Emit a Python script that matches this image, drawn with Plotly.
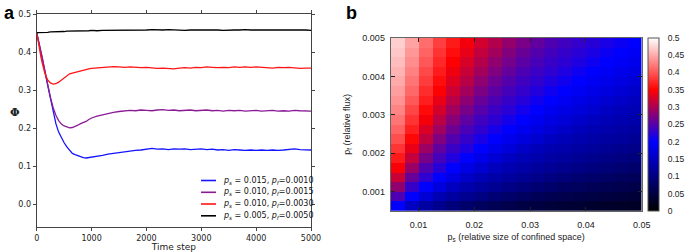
import plotly.graph_objects as go

# ---------------- Panel a data ----------------
time_steps = [0, 25, 50, 75, 100, 150, 200, 250, 300, 350, 400, 450, 500, 550, 600, 650, 700, 750, 800, 850, 900, 950, 1000,
              1100, 1200, 1300, 1400, 1500, 1600, 1700, 1800, 1900, 2000,
              2100, 2200, 2300, 2400, 2500, 2600, 2700, 2800, 2900, 3000,
              3100, 3200, 3300, 3400, 3500, 3600, 3700, 3800, 3900, 4000,
              4100, 4200, 4300, 4400, 4500, 4600, 4700, 4800, 4900, 5000]

phi_blue = [0.451, 0.435, 0.420, 0.403, 0.386, 0.350, 0.313, 0.276, 0.242, 0.212, 0.190, 0.174, 0.162, 0.151, 0.141, 0.134, 0.131, 0.128, 0.125, 0.123, 0.122, 0.123, 0.124,
            0.126, 0.129, 0.132, 0.134, 0.137, 0.138, 0.140, 0.142, 0.143, 0.145,
            0.147, 0.145, 0.146, 0.144, 0.146, 0.145, 0.146, 0.144, 0.145, 0.146,
            0.144, 0.145, 0.143, 0.144, 0.142, 0.144, 0.143, 0.142, 0.143, 0.142,
            0.143, 0.142, 0.143, 0.142, 0.143, 0.144, 0.146, 0.144, 0.143, 0.143]

phi_purple = [0.451, 0.436, 0.421, 0.404, 0.387, 0.350, 0.314, 0.281, 0.254, 0.234, 0.220, 0.211, 0.206, 0.203, 0.201, 0.202, 0.204, 0.208, 0.212, 0.214, 0.218, 0.223, 0.227,
              0.232, 0.236, 0.240, 0.242, 0.244, 0.246, 0.247, 0.246, 0.248, 0.247,
              0.246, 0.248, 0.249, 0.247, 0.248, 0.246, 0.247, 0.248, 0.246, 0.247,
              0.248, 0.246, 0.247, 0.245, 0.247, 0.246, 0.247, 0.245, 0.246, 0.247,
              0.245, 0.246, 0.247, 0.245, 0.246, 0.245, 0.247, 0.246, 0.245, 0.245]

phi_red = [0.451, 0.428, 0.408, 0.389, 0.372, 0.344, 0.327, 0.319, 0.316, 0.317, 0.321, 0.327, 0.333, 0.338, 0.343, 0.345, 0.347, 0.349, 0.352, 0.353, 0.354, 0.356, 0.357,
           0.358, 0.360, 0.361, 0.362, 0.361, 0.360, 0.361, 0.360, 0.359, 0.360,
           0.358, 0.357, 0.358, 0.357, 0.356, 0.358, 0.359, 0.358, 0.360, 0.359,
           0.361, 0.360, 0.359, 0.360, 0.359, 0.361, 0.360, 0.361, 0.360, 0.361,
           0.360, 0.359, 0.358, 0.360, 0.359, 0.360, 0.358, 0.357, 0.358, 0.358]

phi_black = [0.451, 0.451, 0.451, 0.452, 0.452, 0.452, 0.452, 0.453, 0.453, 0.453, 0.454, 0.454, 0.454, 0.455, 0.455, 0.455, 0.455, 0.456, 0.456, 0.456, 0.456, 0.456, 0.457,
             0.456, 0.457, 0.457, 0.458, 0.457, 0.458, 0.458, 0.457, 0.458, 0.458,
             0.459, 0.458, 0.458, 0.459, 0.458, 0.458, 0.457, 0.458, 0.458, 0.458,
             0.459, 0.458, 0.458, 0.457, 0.458, 0.458, 0.458, 0.459, 0.458, 0.458,
             0.458, 0.458, 0.459, 0.458, 0.458, 0.458, 0.459, 0.458, 0.458, 0.457]

series_names = [
    "<i>p<sub>s</sub></i> = 0.015, <i>p<sub>f</sub></i>=0.0010",
    "<i>p<sub>s</sub></i> = 0.010, <i>p<sub>f</sub></i>=0.0015",
    "<i>p<sub>s</sub></i> = 0.010, <i>p<sub>f</sub></i>=0.0030",
    "<i>p<sub>s</sub></i> = 0.005, <i>p<sub>f</sub></i>=0.0050",
]
series_colors = ["#1414ff", "#8a1a96", "#ff1414", "#000000"]

time_ticks = [0, 1000, 2000, 3000, 4000, 5000]
phi_ticks = [0.0, 0.1, 0.2, 0.3, 0.4, 0.5]

# ---------------- Panel b data ----------------
ps_centers = [0.00625, 0.00875, 0.01125, 0.01375, 0.01625, 0.01875, 0.02125, 0.02375, 0.02625,
              0.02875, 0.03125, 0.03375, 0.03625, 0.03875, 0.04125, 0.04375, 0.04625, 0.04875]
pf_centers = [0.000625, 0.000875, 0.001125, 0.001375, 0.001625, 0.001875, 0.002125, 0.002375, 0.002625,
              0.002875, 0.003125, 0.003375, 0.003625, 0.003875, 0.004125, 0.004375, 0.004625, 0.004875]

phi_map = [
    [0.200, 0.153, 0.128, 0.111, 0.096, 0.083, 0.073, 0.066, 0.060, 0.054, 0.050, 0.046, 0.042, 0.039, 0.037, 0.034, 0.032, 0.030],
    [0.245, 0.200, 0.166, 0.140, 0.126, 0.113, 0.102, 0.092, 0.083, 0.076, 0.070, 0.065, 0.060, 0.057, 0.053, 0.050, 0.047, 0.044],
    [0.285, 0.232, 0.200, 0.173, 0.149, 0.135, 0.124, 0.115, 0.106, 0.098, 0.090, 0.083, 0.078, 0.073, 0.068, 0.064, 0.061, 0.058],
    [0.318, 0.260, 0.227, 0.200, 0.177, 0.157, 0.142, 0.132, 0.124, 0.116, 0.108, 0.101, 0.095, 0.089, 0.083, 0.079, 0.074, 0.071],
    [0.345, 0.290, 0.247, 0.223, 0.200, 0.180, 0.163, 0.148, 0.138, 0.130, 0.123, 0.116, 0.110, 0.104, 0.099, 0.093, 0.088, 0.083],
    [0.365, 0.316, 0.270, 0.240, 0.219, 0.200, 0.182, 0.168, 0.153, 0.142, 0.135, 0.128, 0.122, 0.117, 0.111, 0.106, 0.101, 0.096],
    [0.381, 0.337, 0.292, 0.257, 0.234, 0.219, 0.200, 0.184, 0.171, 0.158, 0.147, 0.139, 0.133, 0.127, 0.122, 0.117, 0.112, 0.107],
    [0.396, 0.354, 0.312, 0.275, 0.248, 0.231, 0.215, 0.200, 0.186, 0.174, 0.162, 0.151, 0.143, 0.137, 0.131, 0.126, 0.122, 0.117],
    [0.408, 0.368, 0.328, 0.294, 0.264, 0.243, 0.228, 0.213, 0.200, 0.187, 0.176, 0.166, 0.155, 0.146, 0.140, 0.135, 0.130, 0.126],
    [0.418, 0.380, 0.344, 0.310, 0.280, 0.255, 0.238, 0.226, 0.212, 0.200, 0.188, 0.178, 0.169, 0.159, 0.150, 0.143, 0.138, 0.133],
    [0.428, 0.391, 0.356, 0.324, 0.295, 0.270, 0.250, 0.235, 0.224, 0.211, 0.200, 0.189, 0.179, 0.171, 0.162, 0.153, 0.146, 0.141],
    [0.436, 0.402, 0.367, 0.337, 0.309, 0.283, 0.261, 0.244, 0.232, 0.222, 0.210, 0.200, 0.190, 0.181, 0.173, 0.164, 0.157, 0.149],
    [0.443, 0.411, 0.376, 0.348, 0.320, 0.296, 0.273, 0.254, 0.240, 0.230, 0.220, 0.209, 0.200, 0.190, 0.182, 0.174, 0.167, 0.159],
    [0.450, 0.419, 0.385, 0.357, 0.331, 0.308, 0.284, 0.264, 0.249, 0.237, 0.228, 0.219, 0.209, 0.200, 0.191, 0.183, 0.176, 0.169],
    [0.456, 0.426, 0.393, 0.366, 0.341, 0.317, 0.296, 0.275, 0.258, 0.245, 0.235, 0.227, 0.218, 0.208, 0.200, 0.192, 0.184, 0.177],
    [0.461, 0.433, 0.401, 0.373, 0.349, 0.326, 0.306, 0.285, 0.268, 0.253, 0.242, 0.233, 0.226, 0.218, 0.208, 0.200, 0.193, 0.185],
    [0.467, 0.439, 0.408, 0.380, 0.357, 0.336, 0.314, 0.296, 0.277, 0.262, 0.249, 0.239, 0.231, 0.224, 0.216, 0.207, 0.200, 0.193],
    [0.472, 0.445, 0.414, 0.387, 0.365, 0.343, 0.323, 0.305, 0.287, 0.271, 0.257, 0.246, 0.237, 0.230, 0.223, 0.214, 0.207, 0.200],
]

ps_ticks = [0.01, 0.02, 0.03, 0.04, 0.05]
pf_ticks = [0.001, 0.002, 0.003, 0.004, 0.005]
cbar_ticks = [0, 0.05, 0.1, 0.15, 0.2, 0.25, 0.3, 0.35, 0.4, 0.45, 0.5]

W, H = 685, 252

fig = go.Figure()

for vals, name, col in zip([phi_blue, phi_purple, phi_red, phi_black], series_names, series_colors):
    fig.add_trace(go.Scatter(x=time_steps, y=vals, mode="lines", name=name,
                             line=dict(color=col, width=1.3), xaxis="x", yaxis="y", showlegend=False))

fig.add_trace(go.Heatmap(
    x=ps_centers, y=pf_centers, z=phi_map, zmin=0, zmax=0.5,
    colorscale=[[0.0, "#000000"], [0.4, "#0000ff"], [0.7, "#ff0000"], [1.0, "#ffffff"]],
    xaxis="x2", yaxis="y2", showlegend=False,
    colorbar=dict(
        x=648 / W, xanchor="left", y=1 - (38 + 210.7) / 2 / H, yanchor="middle",
        len=(210.7 - 38) / H, lenmode="fraction", thickness=11, thicknessmode="pixels",
        outlinecolor="#555555", outlinewidth=1,
        tickvals=cbar_ticks, ticktext=[("%g" % v) for v in cbar_ticks],
        ticks="outside", ticklen=7, tickcolor="rgba(0,0,0,0)",
        tickfont=dict(family="Liberation Sans", size=8.5, color="#222222"),
        xpad=0, ypad=0,
    ),
))

axis_font_a = dict(family="DejaVu Sans", size=8, color="#222222")
axis_font_b = dict(family="Liberation Sans", size=9, color="#222222")

# hand-drawn legend for panel a (line samples + labels)
legend_rows_y = [180.5, 192.3, 204.0, 215.8]
shapes = []
annotations = []
for yy, name, col in zip(legend_rows_y, series_names, series_colors):
    shapes.append(dict(type="line", xref="paper", yref="paper",
                       x0=201 / W, x1=216 / W, y0=1 - yy / H, y1=1 - yy / H,
                       line=dict(color=col, width=1.6)))
    annotations.append(dict(text=name, x=221 / W, y=1 - yy / H, xref="paper", yref="paper",
                            xanchor="left", yanchor="middle", showarrow=False,
                            font=dict(family="DejaVu Sans", size=8, color="#111111")))

# colorbar inner tick marks (both sides of the bar)
for v in cbar_ticks[1:-1]:
    yy = 210.7 - v / 0.5 * (210.7 - 38)
    for xa, xb in ((648, 651), (656, 659)):
        shapes.append(dict(type="line", xref="paper", yref="paper",
                           x0=xa / W, x1=xb / W, y0=1 - yy / H, y1=1 - yy / H,
                           line=dict(color="#333333", width=1)))

annotations += [
    dict(text="<b>a</b>", x=2 / W, y=1 - 1 / H, xref="paper", yref="paper", xanchor="left", yanchor="top",
         showarrow=False, font=dict(family="Liberation Sans", size=18, color="black")),
    dict(text="<b>b</b>", x=344 / W, y=1 - 1 / H, xref="paper", yref="paper", xanchor="left", yanchor="top",
         showarrow=False, font=dict(family="Liberation Sans", size=18, color="black")),
    dict(text="<b>Φ</b>", x=15 / W, y=1 - 113 / H, xref="paper", yref="paper", xanchor="center", yanchor="middle",
         showarrow=False, font=dict(family="DejaVu Serif", size=11, color="#222222")),
]

fig.update_layout(
    template="none",
    width=W, height=H, margin=dict(l=0, r=0, t=0, b=0, autoexpand=False),
    paper_bgcolor="white", plot_bgcolor="white",
    showlegend=False,
    xaxis=dict(domain=[36.7 / W, 311 / W], range=[0, 5000], tickvals=time_ticks, automargin=False,
               showline=True, linecolor="#444444", linewidth=1, mirror="ticks",
               ticks="outside", ticklen=3, tickcolor="#444444", showgrid=False, zeroline=False,
               tickfont=axis_font_a,
               title=dict(text="Time step", font=dict(family="DejaVu Sans", size=9, color="#222222"), standoff=4),
               anchor="y"),
    yaxis=dict(domain=[1 - 227.3 / H, 1 - 14 / H], range=[-0.06, 0.5], tickvals=phi_ticks, tickformat=".1f",
               automargin=False,
               showline=True, linecolor="#444444", linewidth=1, mirror="ticks",
               ticks="outside", ticklen=3, tickcolor="#444444", showgrid=False, zeroline=False,
               tickfont=axis_font_a, anchor="x"),
    xaxis2=dict(domain=[390.7 / W, 641.7 / W], range=[0.005, 0.05], tickvals=ps_ticks, automargin=False,
                ticktext=[("%g" % v) for v in ps_ticks],
                showline=True, linecolor="#666666", linewidth=1, mirror="ticks",
                ticks="inside", ticklen=4, tickcolor="#222222", showgrid=False, zeroline=False,
                tickfont=axis_font_b, ticklabelstandoff=5,
                title=dict(text="p<sub>s</sub> (relative size of confined space)",
                           font=dict(family="Liberation Sans", size=9, color="#222222"), standoff=5),
                anchor="y2"),
    yaxis2=dict(domain=[1 - 210.7 / H, 1 - 38 / H], range=[0.0005, 0.005], tickvals=pf_ticks, automargin=False,
                ticktext=[("%.3f" % v) for v in pf_ticks],
                showline=True, linecolor="#666666", linewidth=1, mirror="ticks",
                ticks="inside", ticklen=4, tickcolor="#222222", showgrid=False, zeroline=False,
                tickfont=axis_font_b, ticklabelstandoff=3,
                title=dict(text="p<sub>f</sub> (relative flux)",
                           font=dict(family="Liberation Sans", size=9, color="#222222"), standoff=10),
                anchor="x2"),
    shapes=shapes,
    annotations=annotations,
)

fig.write_html("out.html", config={"displayModeBar": False},
               post_script="document.body.style.margin='0px';document.body.style.overflow='hidden';")
